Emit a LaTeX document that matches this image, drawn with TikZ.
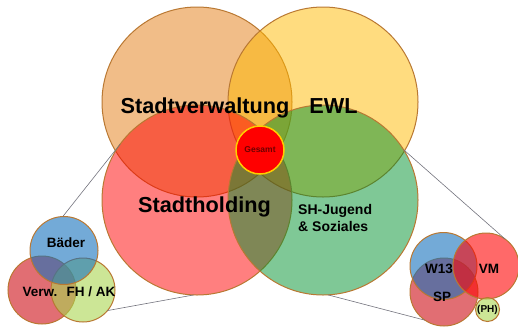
\documentclass[tikz,border=0pt]{standalone}
\usepackage{fontspec}
\setmainfont{Liberation Sans}
\definecolor{corange}{RGB}{227,123,17}
\definecolor{cyellow}{RGB}{255,185,0}
\definecolor{cred}{RGB}{255,0,0}
\definecolor{cgreen}{RGB}{0,145,45}
\definecolor{cborder}{RGB}{185,120,50}
\definecolor{sblue}{RGB}{22,113,188}
\definecolor{sred}{RGB}{205,13,22}
\definecolor{sred2}{RGB}{255,5,5}
\definecolor{sgreen}{RGB}{170,213,80}
\definecolor{cline}{RGB}{115,115,125}
\definecolor{cgold}{RGB}{255,205,0}
\definecolor{ctext}{RGB}{110,0,0}
\begin{document}
\begin{tikzpicture}[x=1pt,y=-1pt,
  bigc/.style={circle,draw=cborder,line width=1pt,fill opacity=0.5,inner sep=0pt,outer sep=0pt,minimum size=190pt},
  smallc/.style={circle,draw=cborder,line width=1pt,fill opacity=0.6,inner sep=0pt,outer sep=0pt},
  zoomline/.style={draw=cline,line width=0.6pt},
  bigtxt/.style={font=\fontsize{21.7}{24}\selectfont\bfseries,inner sep=0pt,anchor=base},
  midtxt/.style={font=\fontsize{14}{17}\selectfont\bfseries,inner sep=0pt,align=left},
  smtxt/.style={font=\fontsize{13.5}{15}\selectfont\bfseries,inner sep=0pt}]
\useasboundingbox (0,0) rectangle (518,327);
% big circles
\node[bigc,fill=corange] (sv) at (197,102) {};
\node[bigc,fill=cyellow] (ewl) at (323,102) {};
\node[bigc,fill=cred] (sh) at (197,200) {};
\node[bigc,fill=cgreen] (shj) at (323,200) {};
% left cluster
\node[smallc,fill=sred,minimum size=68pt] (verw) at (42,290) {};
\node[smallc,fill=sgreen,minimum size=64pt] (fh) at (83,290) {};
\node[smallc,fill=sblue,minimum size=68pt] (bad) at (64,250.5) {};
% right cluster
\node[smallc,fill=sred,minimum size=68pt] (sp) at (444,292) {};
\node[smallc,fill=sblue,minimum size=67pt] (w13) at (443.5,266) {};
\node[smallc,fill=sred2,minimum size=66pt] (vm) at (486,266) {};
\node[smallc,fill=sgreen,minimum size=24pt] (ph) at (487.5,309.5) {};
% Gesamt
\node[circle,fill=cred,draw=cgold,line width=1.5pt,minimum size=48pt,inner sep=0pt,
  font=\fontsize{8.5}{10}\selectfont\bfseries,text=ctext] (ges) at (260,150) {Gesamt};
% connectors
\draw[zoomline] (bad.92) -- (sh.144);
\draw[zoomline] (fh.-40) -- (sh.268);
\draw[zoomline] (shj.32) -- (vm.54);
\draw[zoomline] (shj.273) -- (sp.236);
% labels
\node[bigtxt] (tsv) at (205,113) {Stadtverwaltung};
\node[bigtxt] (tewl) at (333.5,113) {EWL};
\node[bigtxt] (tsh) at (204.5,212.5) {Stadtholding};
\node[midtxt,anchor=north west] (tshj) at (298,204) {SH-Jugend\\\& Soziales};
\node[smtxt] (tbad) at (66,243) {Bäder};
\node[smtxt] (tverw) at (40,292) {Verw.};
\node[smtxt] (tfh) at (91,292) {FH / AK};
\node[smtxt] (tw13) at (439,269) {W13};
\node[smtxt] (tvm) at (489,268.5) {VM};
\node[smtxt] (tsp) at (442,297) {SP};
\node[font=\fontsize{10}{12}\selectfont\bfseries,inner sep=0pt] (tph) at (487.5,310) {(PH)};
\end{tikzpicture}
\end{document}
